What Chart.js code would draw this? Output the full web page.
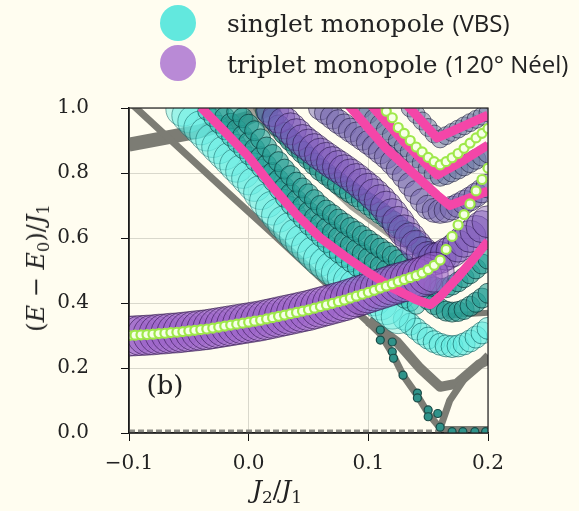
<!DOCTYPE html>
<html>
<head>
<meta charset="utf-8">
<title>Monopole spectrum</title>
<script src="https://cdn.jsdelivr.net/npm/chart.js"></script>
<style>
  html, body { margin: 0; padding: 0; background: #fffdf0; }
  #wrap { position: relative; width: 579px; height: 511px; overflow: hidden; }
  canvas { position: absolute; left: 0; top: 0; }
  .dot { position: absolute; width: 36px; height: 36px; border-radius: 50%; }
  .ltxt { position: absolute; left: 227px; transform: translateY(-50%); font: 25px 'DejaVu Serif'; color: #222; white-space: nowrap; }
  .ltxt span { font-family: 'Open Sans'; font-size: 24px; }
  .title { position: absolute; transform: translate(-50%, -50%); font-family: 'DejaVu Serif'; color: #222; white-space: nowrap; }
  .title sub { font-size: 0.68em; vertical-align: -0.3em; line-height: 0; font-style: normal; }
</style>
</head>
<body>
<div id="wrap">
  <canvas id="chart" width="579" height="511"></canvas>
  <div class="dot" style="left:160px; top:5px; background:#62e8de;"></div>
  <div class="dot" style="left:160px; top:45px; background:#b98ad6;"></div>
  <div class="ltxt" style="top:22px;">singlet monopole <span>(VBS)</span></div>
  <div class="ltxt" style="top:63px;">triplet monopole <span>(120° Néel)</span></div>
  <div class="title" style="left:36px; top:268px; font-size:24px; transform: translate(-50%, -50%) rotate(-90deg);">(<i>E</i> − <i>E</i><sub>0</sub>)/<i>J</i><sub>1</sub></div>
  <div class="title" style="left:277px; top:489px; font-size:25px;"><i>J</i><sub>2</sub>/<i>J</i><sub>1</sub></div>
  <div class="title" style="left:165px; top:385px; font-size:26px;">(b)</div>
</div>
<script>
// J2/J1 grid of the marker series
const J2 = [-0.1,-0.095,-0.09,-0.085,-0.08,-0.075,-0.07,-0.065,-0.06,-0.055,
  -0.05,-0.045,-0.04,-0.035,-0.03,-0.025,-0.02,-0.015,-0.01,-0.005,
  0,0.005,0.01,0.015,0.02,0.025,0.03,0.035,0.04,0.045,
  0.05,0.055,0.06,0.065,0.07,0.075,0.08,0.085,0.09,0.095,
  0.1,0.105,0.11,0.115,0.12,0.125,0.13,0.135,0.14,0.145,
  0.15,0.155,0.16,0.165,0.17,0.175,0.18,0.185,0.19,0.195,0.2];

const xTicks = [-0.1, 0, 0.1, 0.2];
const xTickLabels = ['−0.1', '0.0', '0.1', '0.2'];
const yTicks = [0, 0.2, 0.4, 0.6, 0.8, 1.0];
const yTickLabels = ['0.0', '0.2', '0.4', '0.6', '0.8', '1.0'];

// lowest triplet level (green rings), from -0.1
const greenLow = [0.300,0.301,0.302,0.303,0.304,0.306,0.307,0.309,0.310,0.312,
  0.314,0.316,0.318,0.320,0.323,0.326,0.329,0.332,0.335,0.338,
  0.341,0.344,0.347,0.351,0.355,0.359,0.363,0.367,0.371,0.375,
  0.379,0.384,0.389,0.394,0.399,0.404,0.409,0.415,0.421,0.427,
  0.433,0.439,0.446,0.452,0.459,0.466,0.472,0.478,0.484,0.492,
  0.503,0.516,0.532,0.565,0.605,0.640,0.672,0.705,0.745,0.780,0.815];
// triplet monopole weight on that level, from -0.1
const tripletLow = [0.298,0.299,0.300,0.301,0.302,0.304,0.305,0.307,0.308,0.310,
  0.312,0.314,0.316,0.318,0.321,0.324,0.327,0.330,0.333,0.336,
  0.339,0.342,0.345,0.349,0.353,0.357,0.361,0.365,0.369,0.373,
  0.377,0.382,0.387,0.392,0.397,0.402,0.407,0.413,0.419,0.425,
  0.431,0.437,0.443,0.449,0.455,0.461,0.466,0.471,0.476,0.481,
  0.487,0.495];
// second green level, from 0.115
const greenUp = [0.99,0.97,0.94,0.922,0.90,0.88,0.865,0.848,0.835,0.825,
  0.835,0.847,0.86,0.876,0.892,0.908,0.922,0.937];

// singlet monopole weight (light cyan), from -0.055
const singlet = [0.996,0.977,0.958,0.939,0.92,0.90,0.881,0.862,0.843,0.824,
  0.805,0.785,0.765,0.74,0.715,0.692,0.67,0.647,0.627,0.607,
  0.589,0.571,0.553,0.535,0.52,0.506,0.492,0.479,0.466,0.453,
  0.44,0.427,0.413,0.40,0.386,0.372,0.358];
// lower singlet branch around the minimum, from 0.13
const singletLow = [0.35,0.335,0.32,0.305,0.292,0.281,0.273,0.268,0.266,0.268,
  0.274,0.283,0.295,0.308,0.322];
// darker singlet bands
const tealL = [0.99,0.97,0.95,0.93,0.91,0.891,0.872,0.853,0.834,0.815,
  0.795,0.772,0.747,0.722,0.7,0.677,0.657,0.637,0.619,0.601,
  0.583,0.565,0.551,0.537,0.523,0.51,0.497,0.484,0.472,0.459,
  0.446,0.434,0.422,0.412,0.402,0.393];       // from -0.035
const tealA = [0.991,0.972,0.953,0.934,0.915,0.895,0.875,0.85,0.825,0.802,
  0.78,0.757,0.737,0.717,0.699,0.681,0.663,0.645,0.631,0.617,
  0.603,0.59,0.577,0.565,0.552,0.539,0.526,0.514,0.502,0.49,
  0.478,0.466,0.453,0.44,0.425,0.41,0.395,0.383,0.375,0.372,
  0.374,0.38,0.39,0.402,0.415,0.43];          // from -0.025
const tealB = [0.989,0.97,0.95,0.93,0.905,0.88,0.857,0.835,0.812,0.792,
  0.772,0.754,0.736,0.718,0.70,0.686,0.672,0.658,0.645,0.632,
  0.62,0.607,0.594,0.581,0.569,0.557,0.545,0.533,0.52,0.505,
  0.49,0.475,0.46,0.45,0.445,0.447,0.455,0.465,0.478,0.49,
  0.505,0.52,0.535];                          // from -0.01
const tealC = [0.99,0.967,0.945,0.922,0.902,0.882,0.864,0.846,0.828,0.81,
  0.796,0.782,0.768,0.755,0.742,0.73,0.717,0.704,0.69,0.677,
  0.664,0.65,0.636,0.62,0.604,0.587,0.57,0.555]; // from 0.015

// upper triplet bands
const purpleA = [0.992,0.972,0.954,0.936,0.918,0.90,0.886,0.872,0.858,0.845,
  0.832,0.82,0.807,0.794,0.78,0.765,0.75,0.733,0.715,0.695,
  0.672,0.648,0.622,0.598,0.575,0.555,0.54,0.535,0.54,0.55,
  0.56,0.575,0.59,0.605,0.62,0.635,0.65];     // from 0.02
const purpleB = [1.0,0.986,0.972,0.958,0.945,0.932,0.92,0.907,0.894,0.88,
  0.865,0.85,0.832,0.812,0.79,0.765,0.74,0.715,0.695,0.685,
  0.682,0.685,0.692,0.70,0.71,0.72,0.732,0.745,0.76]; // from 0.06
const purpleC = [1.0,0.983,0.966,0.949,0.932,0.915,0.898,0.881,0.864,0.847,
  0.83,0.813,0.796,0.79,0.795,0.803,0.812,0.822,0.832,0.842,
  0.852,0.862,0.872];                         // from 0.095
const purpleD = [1.0,0.98,0.96,0.94,0.92,0.905,0.915,0.925,0.935,0.945,
  0.955,0.965,0.975,0.985];                   // from 0.135

// pink levels
const pinkLow = [[-0.04,1.003],[-0.02,0.927],[0,0.85],[0.02,0.757],[0.04,0.672],[0.06,0.60],
  [0.08,0.545],[0.1,0.494],[0.12,0.447],[0.14,0.41],[0.152,0.395],[0.16,0.42],
  [0.175,0.48],[0.19,0.545],[0.2,0.59]];
const pinkA = [[0.083,1.01],[0.115,0.875],[0.1575,0.732],[0.168,0.70],[0.2,0.745]];
const pinkB = [[0.102,1.01],[0.13,0.895],[0.1575,0.794],[0.18,0.84],[0.2,0.886]];
const pinkC = [[0.132,1.01],[0.1575,0.908],[0.18,0.945],[0.2,0.978]];

// grey levels
const greyRise = [[-0.1,0.887],[-0.04,0.929],[0,0.97],[0.025,1.01]];
const greySaw = [[-0.1,1.02],[-0.023,0.758],[0.018,0.62],[0.1,0.34],[0.11,0.305],[0.12,0.245],
  [0.129,0.178],[0.141,0.115],[0.15,0.06],[0.16,0.015]];
const greyV = [[0.1,0.345],[0.124,0.28],[0.143,0.2],[0.16,0.142],[0.174,0.152],[0.193,0.212],[0.2,0.225]];
const greyRight = [[0.16,0.015],[0.168,0.1],[0.18,0.165],[0.2,0.24]];
const greyShelf = [[0.165,0.36],[0.18,0.365],[0.2,0.37]];
const greyGap = [[0,1.005],[0.0075,0.963],[0.085,0.695],[0.12,0.60],[0.145,0.54]];
const greyFloor = [[-0.1,0.006],[0.2,0.006]];
const greyFloorR = [[0.16,0.012],[0.2,0.012]];
const tealDots = [[0.11,0.317],[0.11,0.286],[0.12,0.28],[0.12,0.25],[0.121,0.23],[0.129,0.178],
  [0.141,0.123],[0.141,0.108],[0.15,0.071],[0.15,0.05],[0.158,0.06],[0.16,0.018],
  [0.17,0.004],[0.179,0.004],[0.189,0.004],[0.198,0.004]];

function band(start, ys) {
  const i0 = J2.indexOf(start);
  return ys.map((y, k) => ({ x: J2[i0 + k], y: y }));
}
function pts(arr) {
  return arr.map(p => ({ x: p[0], y: p[1] }));
}
function marks(data, r, fill, edge, bw) {
  return { data: data, showLine: false, pointRadius: r, pointBackgroundColor: fill,
    pointBorderColor: edge, pointBorderWidth: bw === undefined ? 1 : bw, clip: 0 };
}
function curve(data, w, color, dash) {
  return { data: data, showLine: true, pointRadius: 0, borderColor: color, borderWidth: w,
    borderDash: dash || [], borderJoinStyle: 'round', tension: 0, fill: false, clip: 0 };
}

const grey = '#7c7c74';
const tealFill = 'rgba(38,160,150,0.6)', tealEdge = 'rgba(8,55,55,0.7)';
const layers = [
  curve(pts(greyFloor), 3, '#8d8d86', [6, 3]),
  curve(pts(greyRise), 14, grey),
  curve(pts(greySaw), 7, grey),
  curve(pts(greyV), 10, grey),
  curve(pts(greyRight), 7, grey),
  curve(pts(greyShelf), 6, grey),
  curve(pts(greyFloorR), 6, grey),
  curve(pts(greyGap), 4, '#a3a39a'),
  marks(pts(tealDots), 4, '#2f938a', '#1b4a46', 1.2),
  marks(band(0.13, singletLow), 11, 'rgba(96,236,226,0.5)', 'rgba(10,90,90,0.6)'),
  marks(band(-0.055, singlet), 17, 'rgba(100,238,228,0.4)', 'rgba(10,90,90,0.5)'),
  marks(band(-0.035, tealL), 9, 'rgba(60,200,190,0.55)', 'rgba(8,60,60,0.65)'),
  marks(band(-0.025, tealA), 10, tealFill, tealEdge),
  marks(band(-0.01, tealB), 10, tealFill, tealEdge),
  marks(band(0.015, tealC), 11, tealFill, tealEdge),
  marks(band(0.135, purpleD), 9, 'rgba(120,130,170,0.55)', 'rgba(30,30,60,0.6)'),
  marks(band(0.095, purpleC), 10, 'rgba(110,120,165,0.55)', 'rgba(30,30,60,0.6)'),
  marks(band(0.06, purpleB), 12, 'rgba(120,105,175,0.5)', 'rgba(35,25,65,0.6)'),
  marks(band(0.02, purpleA), 16, 'rgba(125,85,185,0.42)', 'rgba(40,20,70,0.6)'),
  marks(band(-0.1, tripletLow), 20, 'rgba(155,98,200,0.4)', 'rgba(50,20,80,0.6)'),
  curve(pts(pinkLow), 9, '#f446a8'),
  curve(pts(pinkA), 9, '#f446a8'),
  curve(pts(pinkB), 9, '#f446a8'),
  curve(pts(pinkC), 9, '#f446a8'),
  marks(band(-0.1, greenLow), 4.5, '#f6ffe6', '#9fe84a', 2.2),
  marks(band(0.115, greenUp), 4.5, '#f6ffe6', '#9fe84a', 2.2)
];
const datasets = layers.map((d, i) => Object.assign(d, { order: layers.length - i }));

const frame = {
  id: 'frame',
  afterDatasetsDraw(chart) {
    const a = chart.chartArea, c = chart.ctx;
    c.save();
    c.strokeStyle = '#222';
    c.lineWidth = 1.2;
    c.strokeRect(a.left, a.top, a.right - a.left, a.bottom - a.top);
    c.restore();
  }
};

const tickFont = { family: 'DejaVu Serif', size: 20 };
new Chart(document.getElementById('chart').getContext('2d'), {
  type: 'scatter',
  data: { datasets: datasets },
  options: {
    responsive: false,
    animation: false,
    events: [],
    layout: { padding: { left: 0, right: 91, top: 108, bottom: 0 } },
    plugins: { legend: { display: false }, tooltip: { enabled: false } },
    scales: {
      x: {
        type: 'linear', min: -0.1, max: 0.2,
        afterFit: s => { s.height = 78; },
        afterBuildTicks: s => { s.ticks = xTicks.map(v => ({ value: v })); },
        ticks: { callback: (v, i) => xTickLabels[i], font: tickFont, color: '#222', padding: 11, maxRotation: 0 },
        grid: { color: '#d9d8cc', lineWidth: 1, tickColor: '#111', tickLength: 8 },
        border: { color: '#111', width: 1.5 }
      },
      y: {
        type: 'linear', min: 0, max: 1,
        afterFit: s => { s.width = 129; },
        afterBuildTicks: s => { s.ticks = yTicks.map(v => ({ value: v })); },
        ticks: { callback: (v, i) => yTickLabels[i], font: tickFont, color: '#222', padding: 32 },
        grid: { color: '#d9d8cc', lineWidth: 1, tickColor: '#111', tickLength: 8 },
        border: { color: '#111', width: 1.5 }
      }
    }
  },
  plugins: [frame]
});
</script>
</body>
</html>
